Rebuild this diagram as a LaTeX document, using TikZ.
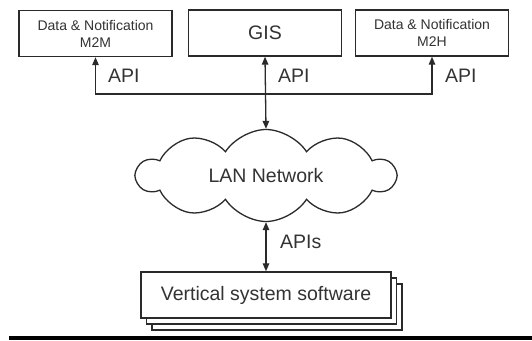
\documentclass[tikz,border=0pt]{standalone}
\usepackage{fontspec}
\setmainfont{Liberation Sans}
\usetikzlibrary{shapes.symbols,arrows.meta}
\definecolor{ln}{HTML}{2A2A2A}
\definecolor{tx}{HTML}{333333}
\begin{document}
\begin{tikzpicture}[x=1pt,y=-1pt,
  box/.style={draw=ln,line width=1.4pt,fill=white,minimum width=153pt,minimum height=46pt,inner sep=0pt,text=tx,align=center},
  small/.style={font=\fontsize{14}{17}\selectfont},
  big/.style={font=\fontsize{19.5}{22}\selectfont},
  conn/.style={draw=ln,line width=1.3pt,{Triangle[length=8pt,width=6.5pt]}-{Triangle[length=8pt,width=6.5pt]}},
  uparr/.style={draw=ln,line width=1.3pt,-{Triangle[length=8pt,width=6.5pt]}},
  lbl/.style={big,text=tx,anchor=west,inner sep=0pt}]
\fill[white] (0,0) rectangle (532,340);
\useasboundingbox (0,0) rectangle (532,340);
% top boxes
\node[box,small] (m2m) at (95.5,33.5) {Data \& Notification\\M2M};
\node[box,big] (gis) at (265,33) {GIS};
\node[box,small] (m2h) at (432,33) {Data \& Notification\\M2H};
% cloud
\node[cloud,draw=ln,line width=1.3pt,fill=white,cloud puffs=10,cloud puff arc=115,aspect=3,minimum width=258pt,minimum height=92pt,inner sep=0pt,text=tx,big] (lan) at (266,175.5) {LAN Network};
% stacked software boxes
\node[box,big,minimum width=250pt,minimum height=46pt] (vss3) at (277,307) {};
\node[box,big,minimum width=250pt,minimum height=46pt] (vss2) at (271.5,301) {};
\node[box,big,minimum width=250pt,minimum height=46pt] (vss) at (266,295) {Vertical system software};
% bus
\coordinate (bus) at (266,94);
\draw[uparr] (bus) -| (m2m.south);
\draw[uparr] (bus) -| (m2h.south);
\draw[conn] (gis.south) -- (lan.north);
\draw[conn] (lan.south) -- (vss.north);
% labels
\node[lbl] (api1) at (108,76) {API};
\node[lbl] (api2) at (278,76) {API};
\node[lbl] (api3) at (445,76) {API};
\node[lbl] (apis) at (280,242) {APIs};
% bottom bar
\fill[black] (9,336) rectangle (532,340);
\end{tikzpicture}
\end{document}
